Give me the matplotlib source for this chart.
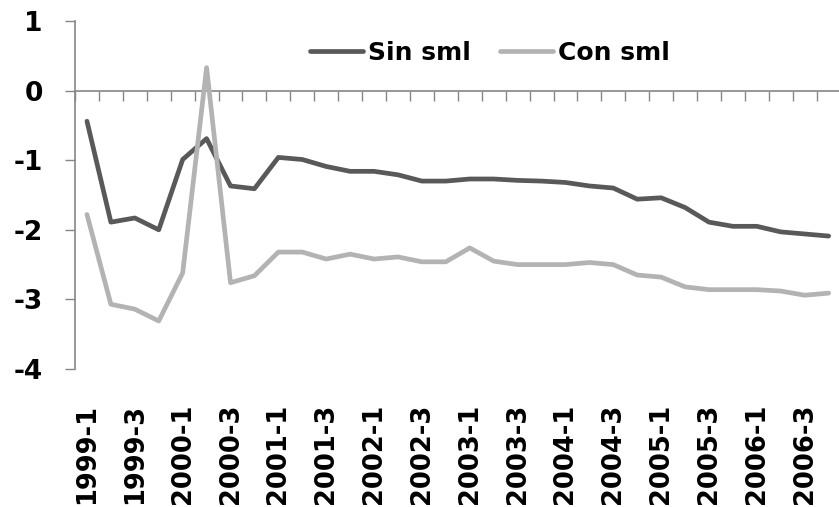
import matplotlib
matplotlib.use('Agg')
import matplotlib.pyplot as plt

# ── data ─────────────────────────────────────────────────────────────────────
quarters = ['1999-1', '1999-2', '1999-3', '1999-4',
            '2000-1', '2000-2', '2000-3', '2000-4',
            '2001-1', '2001-2', '2001-3', '2001-4',
            '2002-1', '2002-2', '2002-3', '2002-4',
            '2003-1', '2003-2', '2003-3', '2003-4',
            '2004-1', '2004-2', '2004-3', '2004-4',
            '2005-1', '2005-2', '2005-3', '2005-4',
            '2006-1', '2006-2', '2006-3', '2006-4']

sin_sml = [-0.44, -1.89, -1.83, -2.00, -0.99, -0.69, -1.37, -1.41,
           -0.96, -0.99, -1.09, -1.16, -1.16, -1.21, -1.30, -1.30,
           -1.27, -1.27, -1.29, -1.30, -1.32, -1.37, -1.40, -1.56,
           -1.54, -1.68, -1.89, -1.95, -1.95, -2.03, -2.06, -2.09]

con_sml = [-1.78, -3.07, -3.14, -3.31, -2.62, 0.33, -2.76, -2.66,
           -2.32, -2.32, -2.42, -2.35, -2.42, -2.39, -2.46, -2.46,
           -2.26, -2.45, -2.50, -2.50, -2.50, -2.47, -2.50, -2.65,
           -2.68, -2.82, -2.86, -2.86, -2.86, -2.88, -2.94, -2.91]

y_ticks = [-4, -3, -2, -1, 0, 1]

# ── style ────────────────────────────────────────────────────────────────────
DARK = '#595959'
LIGHT = '#b3b3b3'
AXIS = '#868686'

plt.rcParams.update({
    'font.family': 'DejaVu Sans',
    'font.weight': 'bold',
    'axes.unicode_minus': False,
})

fig = plt.figure(figsize=(8.39, 5.07), dpi=100, facecolor='white')
ax = fig.add_axes([75 / 839, 1 - 369 / 507, 765.6 / 839, 348 / 507])

x = list(range(len(quarters)))
ax.plot(x, sin_sml, color=DARK, lw=3.4, label='Sin sml', zorder=3,
        solid_joinstyle='round', solid_capstyle='round')
ax.plot(x, con_sml, color=LIGHT, lw=3.4, label='Con sml', zorder=3,
        solid_joinstyle='round', solid_capstyle='round')

ax.set_xlim(-0.5, len(quarters) - 0.5)
ax.set_ylim(-4, 1)

# y axis
ax.set_yticks(y_ticks)
ax.tick_params(axis='y', direction='out', length=7.2, width=1.0,
               color=AXIS, pad=16, labelsize=19)
for s in ['top', 'right']:
    ax.spines[s].set_visible(False)
ax.spines['left'].set_color(AXIS)
ax.spines['left'].set_linewidth(1.2)

# category axis drawn through zero, ticks between categories
ax.spines['bottom'].set_position(('data', 0))
ax.spines['bottom'].set_color(AXIS)
ax.spines['bottom'].set_linewidth(1.2)
ax.set_xticks([i - 0.5 for i in range(len(quarters) + 1)])
ax.tick_params(axis='x', direction='out', length=7.2, width=1.0,
               color=AXIS, labelbottom=False)

# category labels at the bottom of the plot area
sec = ax.secondary_xaxis(0.0)
sec.set_xticks(x[::2], labels=quarters[::2])
sec.tick_params(length=0, pad=25, labelsize=18.5, labelrotation=90)
sec.spines['bottom'].set_visible(False)

ax.legend(loc='center', bbox_to_anchor=(0.542, 0.908), ncol=2,
          frameon=False, fontsize=18, handlelength=2.1,
          handletextpad=0.2, columnspacing=1.2, borderpad=0.1)

fig.savefig('out.png', dpi=100, facecolor='white')
